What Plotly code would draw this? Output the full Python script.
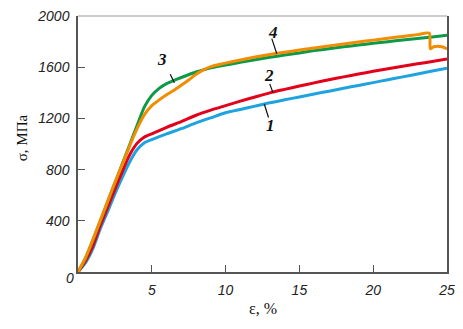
import plotly.graph_objects as go

# strain, %
x1 = [0, 0.5, 1, 1.5, 2, 2.5, 3, 3.5, 4, 4.5, 5, 6, 7, 8, 9, 10, 11, 12, 13, 14, 15, 16, 17, 18, 19, 20, 21, 22, 23, 24, 25]
s1 = [0, 70, 180, 335, 470, 610, 740, 860, 955, 1010, 1035, 1080, 1120, 1165, 1205, 1244, 1270, 1296, 1323, 1346, 1368, 1391, 1413, 1436, 1458, 1480, 1503, 1525, 1547, 1570, 1592]

x2 = [0, 0.5, 1, 1.5, 2, 2.5, 3, 3.5, 4, 4.5, 5, 6, 7, 8, 9, 10, 11, 12, 13, 14, 15, 16, 17, 18, 19, 20, 21, 22, 23, 24, 25]
s2 = [0, 85, 200, 360, 500, 645, 785, 915, 1005, 1055, 1080, 1130, 1175, 1225, 1265, 1300, 1335, 1368, 1400, 1427, 1453, 1478, 1502, 1525, 1547, 1568, 1588, 1608, 1627, 1645, 1664]

x3 = [0, 0.5, 1, 1.5, 2, 2.5, 3, 3.5, 4, 4.5, 5, 5.5, 6, 6.5, 7, 8, 9, 10, 11, 12, 13, 14, 15, 16, 17, 18, 19, 20, 21, 22, 23, 24, 25]
s3 = [0, 105, 245, 395, 545, 695, 845, 995, 1145, 1290, 1380, 1435, 1472, 1497, 1520, 1563, 1595, 1617, 1638, 1658, 1678, 1695, 1712, 1730, 1745, 1760, 1773, 1787, 1800, 1813, 1825, 1837, 1850]

x4 = [0, 0.5, 1, 1.5, 2, 2.5, 3, 3.5, 4, 4.5, 5, 5.5, 6, 6.5, 7, 7.5, 8, 8.5, 9, 10, 11, 12, 13, 14, 15, 16, 17, 18, 19, 20, 21, 22, 23, 23.8, 23.87, 24.1, 24.65, 25]
s4 = [0, 110, 250, 400, 550, 700, 840, 985, 1120, 1230, 1300, 1345, 1385, 1420, 1460, 1500, 1545, 1580, 1605, 1632, 1657, 1680, 1700, 1717, 1734, 1751, 1767, 1782, 1798, 1812, 1827, 1841, 1855, 1866, 1745, 1760, 1760, 1743]

series = [
    ("1", x1, s1, "#1ea2e0"),
    ("2", x2, s2, "#e2001a"),
    ("3", x3, s3, "#0d9a48"),
    ("4", x4, s4, "#f28c00"),
]

# curve labels: (text, label x, label y, leader start, leader end)
labels = [
    ("1", 13.07, 1142, (12.62, 1313), (12.91, 1207)),
    ("2", 12.93, 1536, (12.99, 1470), (13.21, 1402)),
    ("3", 5.67, 1658, (6.25, 1546), (6.53, 1478)),
    ("4", 13.2, 1875, (13.13, 1824), (13.47, 1706)),
]

xticks = [5, 10, 15, 20, 25]
yticks = [400, 800, 1200, 1600, 2000]

fig = go.Figure()
for name, xs, ys, col in series:
    fig.add_trace(go.Scatter(x=xs, y=ys, mode="lines", name=name,
                             line=dict(color=col, width=3, shape="spline", smoothing=0.6),
                             showlegend=False, hoverinfo="skip"))

label_font = dict(family="Liberation Serif", size=17, color="#111")
for txt, lx, ly, p0, p1 in labels:
    fig.add_annotation(x=lx, y=ly, xref="x", yref="y", text="<b><i>" + txt + "</i></b>",
                       showarrow=False, font=label_font)
    fig.add_shape(type="line", x0=p0[0], y0=p0[1], x1=p1[0], y1=p1[1],
                  xref="x", yref="y", line=dict(color="#111", width=1.2))

tick_font = dict(family="Liberation Sans", size=14, color="#222")

fig.update_xaxes(range=[0, 25.001], tickvals=xticks, ticktext=["<i>%d</i>" % v for v in xticks],
                 ticks="inside", ticklen=7, tickwidth=1.3, tickcolor="#555",
                 showline=True, linecolor="#555", linewidth=1.5, mirror=False,
                 showgrid=False, zeroline=False, tickfont=tick_font, ticklabelstandoff=4,
                 ticklabeloverflow="allow")
fig.update_yaxes(range=[0, 2000.5], tickvals=yticks, ticktext=["<i>%d</i>" % v for v in yticks],
                 ticks="inside", ticklen=7, tickwidth=1.3, tickcolor="#555",
                 showline=True, linecolor="#555", linewidth=1.5, mirror=True,
                 showgrid=False, zeroline=False, tickfont=tick_font, ticklabelstandoff=4,
                 ticklabeloverflow="allow")

# top border (lighter)
fig.add_shape(type="line", xref="paper", yref="paper", x0=0, x1=1, y0=1, y1=1,
              line=dict(color="#999", width=1))

# shared zero label
fig.add_annotation(x=-14 / 375, y=-16 / 264, xref="paper", yref="paper", text="<i>0</i>",
                   showarrow=False, font=tick_font)

# axis titles
fig.add_annotation(x=-67 / 375, y=0.5 + (140 - 134) / 264, xref="paper", yref="paper",
                   text="σ, МПа", textangle=-90, showarrow=False,
                   font=dict(family="Liberation Serif", size=15, color="#111"))
fig.add_annotation(x=(266 - 78) / 375, y=-(320 - 272) / 264, xref="paper", yref="paper",
                   text="ε, %", showarrow=False,
                   font=dict(family="Liberation Serif", size=16, color="#111"))

fig.update_layout(width=463, height=329, margin=dict(l=78, r=10, t=8, b=57),
                  plot_bgcolor="white", paper_bgcolor="white")

fig.write_html("out.html")
